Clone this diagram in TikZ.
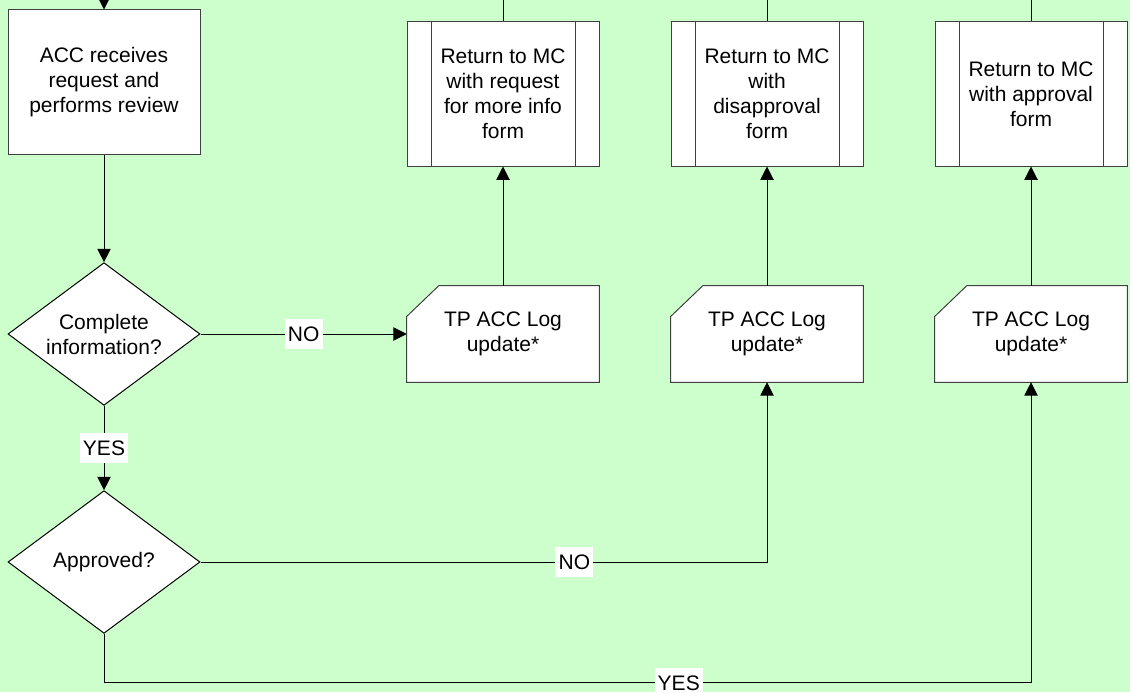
\documentclass[tikz,border=0pt]{standalone}
\usepackage{fontspec}
\setmainfont{Liberation Sans}
\usepackage{tikz}
\usetikzlibrary{calc,positioning,arrows.meta,shapes.geometric}

\definecolor{paleGreen}{RGB}{204,255,204}
\definecolor{boxGray}{RGB}{64,64,64}

\tikzset{
	txt/.style={font=\fontsize{15.75pt}{18.75pt}\selectfont, align=center},
	process/.style={txt, draw=boxGray, fill=white, line width=.75pt, minimum width=144pt, minimum height=108pt, inner sep=0pt},
	predef/.style={process, path picture={
		\draw[boxGray, line width=.75pt] ([xshift=18pt]path picture bounding box.north west) -- ([xshift=18pt]path picture bounding box.south west)
			([xshift=-18pt]path picture bounding box.north east) -- ([xshift=-18pt]path picture bounding box.south east);}},
	decision/.style={txt, diamond, draw=black, fill=white, line width=.75pt, shape aspect=1.35, minimum width=144pt, minimum height=107pt, inner sep=0pt},
	card/.style={txt, minimum width=144pt, minimum height=72pt, inner sep=0pt},
	lbl/.style={txt, fill=white, text height=11.5pt, text depth=0pt, inner xsep=2.4pt, inner ysep=5.5pt},
	flow/.style={line width=.75pt, -{Triangle[width=10pt,length=10pt]}}
}

\begin{document}
\begin{tikzpicture}[x=.75pt, y=-.75pt]
		\fill[paleGreen] (0,0) rectangle (1130,692);
		\useasboundingbox (0,0) rectangle (1130,692);

		% left column
		\coordinate (in) at (104,0);
		\node[process] (acc) at (104,82) {ACC receives\\request and\\performs review};
		\node[decision] (info) at (104,334) {Complete\\information?};
		\node[decision] (ok) at (104,562) {Approved?};

		% log updates
		\node[card] (log1) at (503,334) {TP ACC Log\\update*};
		\node[card] (log2) at (767,334) {TP ACC Log\\update*};
		\node[card] (log3) at (1031,334) {TP ACC Log\\update*};
		\foreach \n in {log1,log2,log3}
			\filldraw[fill=white, draw=boxGray, line width=.75pt] ([yshift=-23pt]\n.north west) -- ([xshift=24pt]\n.north west) -- (\n.north east) -- (\n.south east) -- (\n.south west) -- cycle;
		\foreach \n in {log1,log2,log3}
			\node[card] at (\n) {TP ACC Log\\update*};

		% returns to MC
		\node[predef] (ret1) at (503,94) {Return to MC\\with request\\for more info\\form};
		\node[predef] (ret2) at (767,94) {Return to MC\\with\\disapproval\\form};
		\node[predef] (ret3) at (1031,94) {Return to MC\\with approval\\form};
		\coordinate (out1) at (503,0);
		\coordinate (out2) at (767,0);
		\coordinate (out3) at (1031,0);

		\draw[flow] (in) -- (acc.north);
		\draw[flow] (acc.south) -- (info.north);
		\draw[flow] (info.east) -- node[lbl, midway] {NO} (log1.west);
		\draw[flow] (info.south) -- node[lbl, midway] {YES} (ok.north);
		\draw[flow] (ok.east) -| node[lbl, pos=.33] {NO} (log2.south);
		\draw[flow] (ok.south) -- ++(0,49) coordinate (bend) -| node[lbl, pos=.31] {YES} (log3.south);

		\draw[flow] (log1.north) -- (ret1.south);
		\draw[flow] (log2.north) -- (ret2.south);
		\draw[flow] (log3.north) -- (ret3.south);
		\draw[line width=.75pt] (ret1.north) -- (out1) (ret2.north) -- (out2) (ret3.north) -- (out3);
	\end{tikzpicture}
\end{document}
